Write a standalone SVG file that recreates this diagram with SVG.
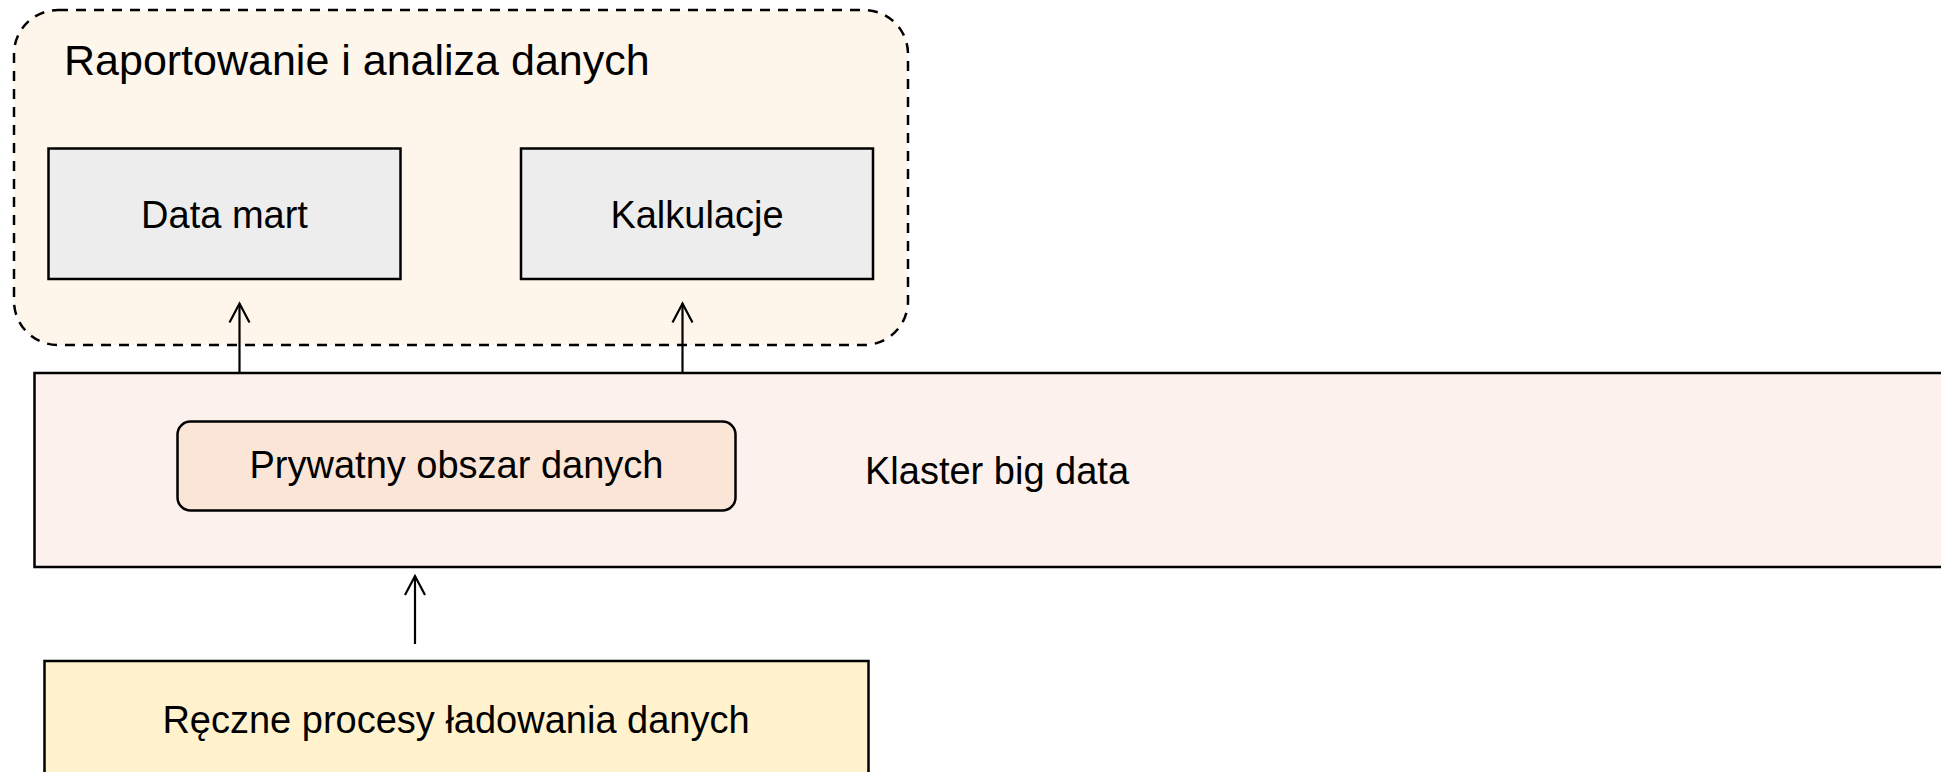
<svg xmlns="http://www.w3.org/2000/svg" width="1941" height="772" viewBox="0 0 1941 772">
  <style>
    .t { font-family: "Liberation Sans", Arial, sans-serif; font-size: 38px; fill: #000; }
    .title { font-size: 43px; }
    .mid { text-anchor: middle; }
    .box { stroke: #000; stroke-width: 2.5; }
    .conn { stroke: #000; stroke-width: 2.2; fill: none; }
  </style>
  <defs>
    <marker id="open" markerUnits="userSpaceOnUse" markerWidth="40" markerHeight="40" refX="0" refY="0" orient="auto" overflow="visible">
      <path d="M-19,-10 L0,0 L-19,10" fill="none" stroke="#000" stroke-width="2.2"/>
    </marker>
  </defs>
  <rect width="1941" height="772" fill="#fff"/>

  <g id="reporting">
    <rect x="14" y="10" width="894" height="335" rx="44" ry="44" fill="#FEF5EB" stroke="#000" stroke-width="2.5" stroke-dasharray="10 8"/>
    <text class="t title" x="64" y="75">Raportowanie i analiza danych</text>
  </g>

  <g id="datamart">
    <rect class="box" x="48.5" y="148.5" width="352" height="130.5" fill="#EDEDED"/>
    <text class="t mid" x="224.5" y="228">Data mart</text>
  </g>

  <g id="kalkulacje">
    <rect class="box" x="521" y="148.5" width="352" height="130.5" fill="#EDEDED"/>
    <text class="t mid" x="697" y="228">Kalkulacje</text>
  </g>

  <g id="cluster">
    <rect class="box" x="34.5" y="373" width="1940" height="194" fill="#FCF1EC"/>
    <text class="t" x="865" y="484">Klaster big data</text>
  </g>

  <g id="private">
    <rect x="177.5" y="421.5" width="558" height="89" rx="13" ry="13" fill="#FBE5D6" stroke="#000" stroke-width="2.5"/>
    <text class="t mid" x="456.5" y="478">Prywatny obszar danych</text>
  </g>

  <g id="manual">
    <rect x="44.5" y="661" width="824" height="140" fill="#FFF2CC" stroke="#000" stroke-width="2.5"/>
    <text class="t mid" x="456" y="733">Ręczne procesy ładowania danych</text>
  </g>

  <g id="connectors">
    <line class="conn" x1="239.5" y1="372" x2="239.5" y2="303.5" marker-end="url(#open)"/>
    <line class="conn" x1="682.5" y1="372" x2="682.5" y2="303.5" marker-end="url(#open)"/>
    <line class="conn" x1="415" y1="644" x2="415" y2="576" marker-end="url(#open)"/>
  </g>
</svg>
